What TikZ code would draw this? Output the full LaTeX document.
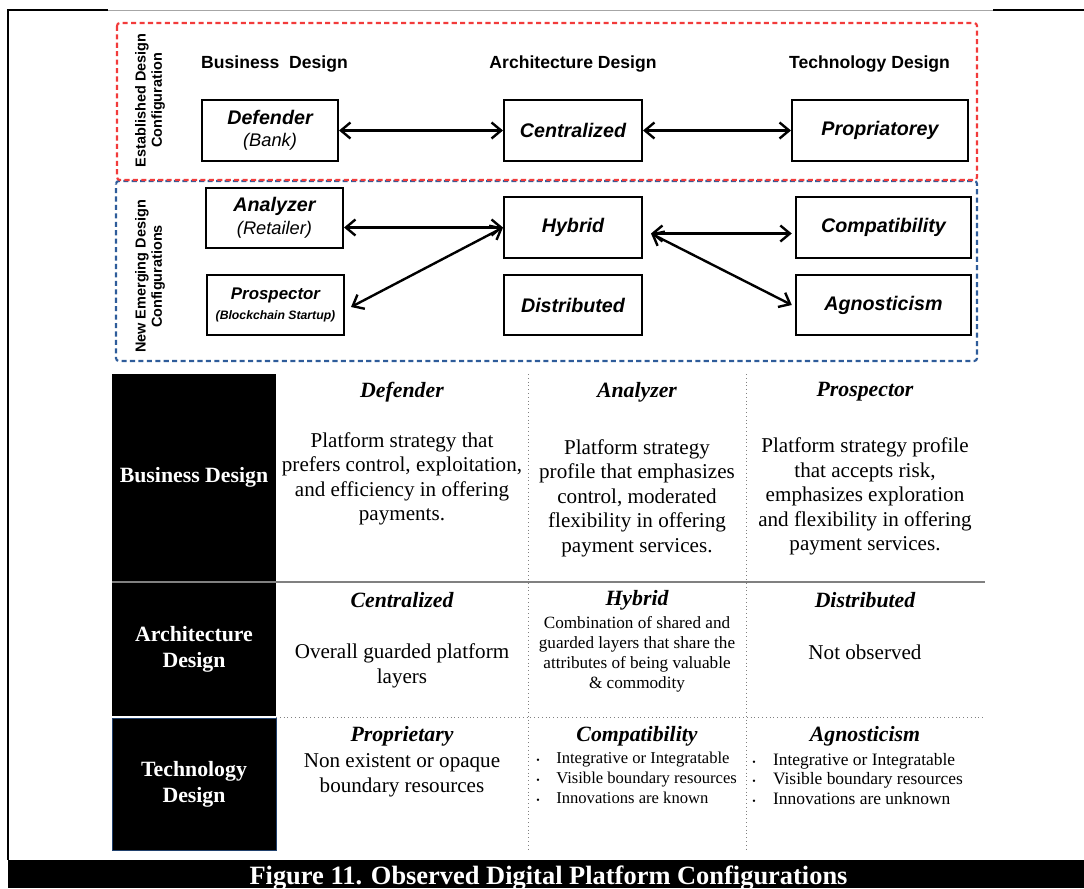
\documentclass[tikz,border=0pt]{standalone}
\usepackage{fontspec}
\setmainfont{Liberation Serif}
\setsansfont{Liberation Sans}
\usetikzlibrary{arrows.meta, positioning, calc}

\definecolor{cfgred}{HTML}{F23B3B}
\definecolor{cfgblue}{HTML}{2E5C9A}

\begin{document}
\begin{tikzpicture}[
    x=0.025cm, y=-0.025cm,
    >={Straight Barb[length=2.4mm, width=4mm]},
    heading/.style={font=\sffamily\bfseries\fontsize{12.5}{14}\selectfont},
    sidelabel/.style={rotate=90, align=center, font=\sffamily\bfseries\fontsize{10.3}{11.6}\selectfont},
    cfgbox/.style={rectangle, draw, line width=1.4pt, minimum height=1.52cm, align=center, inner sep=0pt, font=\sffamily\bfseries\itshape\fontsize{14}{16}\selectfont},
    link/.style={<->, line width=1.7pt},
    group/.style={line width=1.5pt, dash pattern=on 3.6pt off 2.4pt, rounded corners=2pt},
    rowhead/.style={rectangle, fill=black, text=white, minimum width=4.1cm, align=center, inner sep=0pt, font=\bfseries\fontsize{15.5}{18.5}\selectfont},
    celltitle/.style={font=\bfseries\itshape\fontsize{15.5}{18}\selectfont},
    cellbody/.style={align=center, font=\fontsize{15}{17.4}\selectfont},
    cellsmall/.style={align=center, font=\fontsize{12.2}{14.2}\selectfont},
    bullets/.style={align=left, anchor=west, inner sep=0pt, font=\fontsize{11.8}{14.1}\selectfont}
]
\useasboundingbox (0,0) rectangle (1084,888);

% Frame
\draw[line width=1.2pt] (108,10) -- (8,10) -- (8,860);
\draw[gray!70, line width=0.8pt] (108,10.5) -- (993,10.5);
\draw[line width=1.2pt] (993,10) -- (1084,10);

% Configuration groups
\draw[group, cfgblue, dash phase=3pt] (116,181) rectangle (977,361);
\draw[group, cfgred] (117,23) rectangle (977,180);
\node[sidelabel] (established) at (150,100.5) {Established Design\\Configuration};
\node[sidelabel] (emerging) at (150,276.5) {New Emerging Design\\Configurations};

% Column headings
\node[heading] (bizhead) at (274.5,64) {Business\ \ Design};
\node[heading] (archhead) at (573,64) {Architecture Design};
\node[heading] (techhead) at (869.5,64) {Technology Design};

% Established row
\node[cfgbox, minimum width=3.4cm] (defender) at (270,130.5) {Defender\\{\mdseries\fontsize{13}{16}\selectfont (Bank)}};
\node[cfgbox, minimum width=3.45cm] (central) at (573,130.5) {Centralized};
\node[cfgbox, minimum width=4.4cm] (propri) at (880,130.5) {Propriatorey};

% Emerging rows
\node[cfgbox, minimum width=3.425cm, minimum height=1.5cm] (analyzer) at (274.5,218) {Analyzer\\{\mdseries\fontsize{13}{16}\selectfont (Retailer)}};
\node[cfgbox, minimum width=3.45cm] (hybrid) at (573,227.5) {Hybrid};
\node[cfgbox, minimum width=4.375cm] (compat) at (883.5,227.5) {Compatibility};
\node[cfgbox, minimum width=3.425cm, minimum height=1.5cm] (prospector) at (275.5,305) {{\fontsize{12}{14}\selectfont Prospector}\\[-2pt]{\fontsize{8.7}{10}\selectfont (Blockchain Startup)}};
\node[cfgbox, minimum width=3.45cm, minimum height=1.5cm] (distrib) at (573,305) {Distributed};
\node[cfgbox, minimum width=4.375cm, minimum height=1.5cm] (agnostic) at (883.5,305) {Agnosticism};

% Arrows
\coordinate (hubR) at ($(hybrid.east)+(8,6)$);
\draw[link] (defender) -- (central);
\draw[link] (central) -- (propri);
\draw[link] (analyzer.east |- hybrid.west) -- (hybrid.west);
\draw[link] ([xshift=0.15cm, yshift=-0.05cm]prospector.east) -- (hybrid.west);
\draw[link] (hubR) -- ([xshift=-0.08cm]hubR -| compat.west);
\draw[link] (hubR) -- ([xshift=-0.08cm]agnostic.west);

% Table row heads
\node[rowhead, minimum height=5.175cm] (bizrow) at (194,477.5) {Business Design};
\node[rowhead, minimum height=3.325cm] (archrow) at (194,649.5) {Architecture\\Design};
\node[rowhead, minimum height=3.3cm, draw=cfgblue!70!black, line width=0.4pt] (techrow) at (194,784) {Technology\\Design};

% Table rules
\draw[gray, line width=0.9pt] (112,582) -- (985,582);
\draw[gray, dotted, line width=0.7pt] (276,717) -- (985,717);
\draw[gray, dotted, line width=0.7pt] (528,374) -- (528,850);
\draw[gray, dotted, line width=0.7pt] (746,374) -- (746,850);

% Business design cells
\node[celltitle] (deftitle) at (402,392) {Defender};
\node[celltitle] (anatitle) at (637,392) {Analyzer};
\node[celltitle] (protitle) at (865,392) {Prospector};
\node[cellbody] (defbody) at (402,479) {Platform strategy that\\prefers control, exploitation,\\and efficiency in offering\\payments.};
\node[cellbody] (anabody) at (637,498) {Platform strategy\\profile that emphasizes\\control, moderated\\flexibility in offering\\payment services.};
\node[cellbody] (probody) at (865,496.5) {Platform strategy profile\\that accepts risk,\\emphasizes exploration\\and flexibility in offering\\payment services.};

% Architecture design cells
\node[celltitle] (centitle) at (402,600) {Centralized};
\node[celltitle] (hybtitle) at (637,600) {Hybrid};
\node[celltitle] (distitle) at (865,600) {Distributed};
\node[cellbody] (cenbody) at (402,666) {Overall guarded platform\\layers};
\node[cellsmall] (hybbody) at (637,654) {Combination of shared and\\guarded layers that share the\\attributes of being valuable\\\& commodity};
\node[cellbody] (disbody) at (865,652) {Not observed};

% Technology design cells
\node[celltitle] (prptitle) at (402,736) {Proprietary};
\node[celltitle] (cmptitle) at (637,736) {Compatibility};
\node[celltitle] (agntitle) at (865,736) {Agnosticism};
\node[cellbody] (prpbody) at (402,775.5) {Non existent or opaque\\boundary resources};
\node[bullets] (cmpbody) at (536,778) {\makebox[0.5cm][l]{\scriptsize\textbullet}Integrative or Integratable\\\makebox[0.5cm][l]{\scriptsize\textbullet}Visible boundary resources\\\makebox[0.5cm][l]{\scriptsize\textbullet}Innovations are known};
\node[bullets, font=\fontsize{12.4}{14.2}\selectfont] (agnbody) at (752,779) {\makebox[0.52cm][l]{\scriptsize\textbullet}Integrative or Integratable\\\makebox[0.52cm][l]{\scriptsize\textbullet}Visible boundary resources\\\makebox[0.52cm][l]{\scriptsize\textbullet}Innovations are unknown};

% Caption bar
\fill[black] (8,860) rectangle (1084,888);
\node[anchor=base, text=white, font=\bfseries\fontsize{18.8}{22}\selectfont] (caption) at (548.5,884) {Figure 11. Observed Digital Platform Configurations};

\end{tikzpicture}
\end{document}
